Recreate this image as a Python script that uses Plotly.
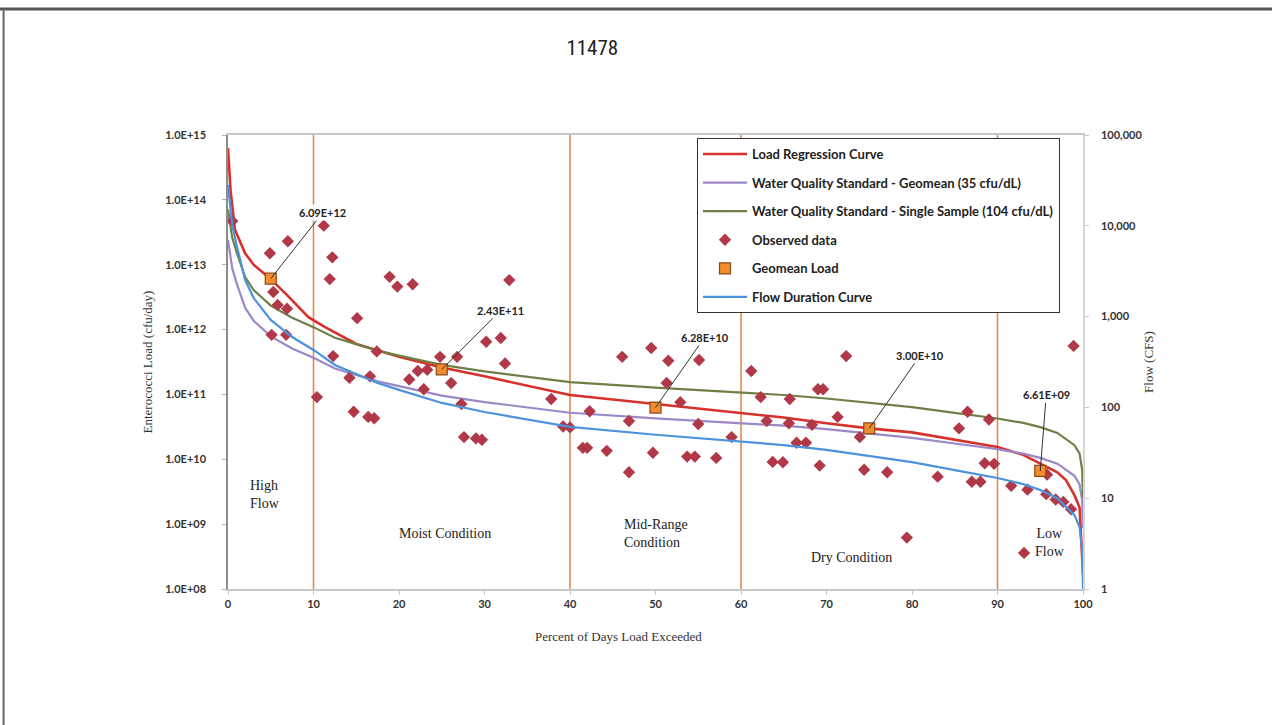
import math
import plotly.graph_objects as go

# ---------------- data ----------------
# Flow duration curve (right axis, cfs)
fdc_pct = [0, 0.5, 1, 2, 3, 5, 7.5, 10, 12.5, 15, 17.5, 20, 25, 30, 35, 40, 50, 60,
           65, 70, 76, 80, 85, 90, 93, 95, 97, 98, 99, 99.6, 99.9, 100]
fdc_flow = [28100, 10200, 6150, 2530, 1600, 918, 596, 429, 293, 233, 186, 156, 112, 89,
            73, 61, 50, 42, 38.5, 34, 28.4, 25, 20.4, 16.7, 14.3, 12.3, 10, 8, 6.5, 4.8,
            2.7, 1]
# Water quality standard curves (left axis, cfu/day)
geo_std_load = [2.41e13, 8.73e12, 5.26e12, 2.17e12, 1.37e12, 7.86e11, 5.10e11, 3.67e11,
                2.51e11, 1.99e11, 1.59e11, 1.34e11, 9.59e10, 7.62e10, 6.25e10, 5.22e10,
                4.28e10, 3.60e10, 3.30e10, 2.91e10, 2.43e10, 2.14e10, 1.75e10, 1.43e10,
                1.22e10, 1.05e10, 8.56e9, 6.85e9, 5.56e9, 4.11e9, 2.31e9, 8.56e8]
ss_std_load = [7.15e13, 2.60e13, 1.57e13, 6.44e12, 4.07e12, 2.34e12, 1.52e12, 1.09e12,
               7.46e11, 5.93e11, 4.73e11, 3.97e11, 2.85e11, 2.27e11, 1.86e11, 1.55e11,
               1.27e11, 1.07e11, 9.80e10, 8.65e10, 7.23e10, 6.36e10, 5.19e10, 4.25e10,
               3.64e10, 3.13e10, 2.55e10, 2.04e10, 1.65e10, 1.22e10, 6.87e9, 2.55e9]
# Load regression curve
reg_pct = [0, 0.3, 0.8, 2, 3, 5, 7, 9.4, 11.3, 15, 20, 25, 30, 35, 40, 50, 60, 65, 70,
           75, 80, 85, 90, 93, 95, 97, 98, 99, 99.6, 100]
reg_load = [6.3e14, 1.4e14, 3.5e13, 1.5e13, 1.0e13, 6.0e12, 3.3e12, 1.55e12, 1.1e12,
            6.0e11, 3.8e11, 2.6e11, 1.9e11, 1.35e11, 9.8e10, 7.1e10, 5.1e10, 4.4e10,
            3.6e10, 3.0e10, 2.6e10, 2.0e10, 1.55e10, 1.17e10, 8.7e9, 6.3e9, 4.8e9, 2.8e9,
            1.8e9, 1.7e8]
# Observed data
obs_pct = [0.5, 4.9, 7.0, 5.3, 5.8, 6.9, 5.1, 6.8, 11.2, 12.2, 11.9, 18.9, 19.8, 21.6,
           15.1, 12.3, 17.4, 14.2, 16.6, 10.4, 14.7, 16.4, 17.1, 21.2, 22.9, 22.2, 23.3,
           24.8, 26.1, 26.8, 27.3, 27.6, 29.0, 29.7, 30.2, 31.9, 32.4, 32.9, 37.8, 39.2,
           40.0, 41.5, 42.0, 44.3, 46.9, 42.3, 46.1, 49.5, 51.5, 55.1, 51.3, 46.9, 49.7,
           52.9, 55.0, 53.7, 54.6, 57.1, 58.9, 61.2, 62.3, 63.0, 63.7, 64.9, 65.7, 65.6,
           66.5, 67.6, 68.3, 69.0, 69.6, 69.2, 72.3, 71.3, 73.9, 74.4, 77.1, 79.4, 83.0,
           85.5, 86.5, 87.0, 88.0, 88.5, 89.6, 89.0, 91.6, 93.5, 93.1, 95.8, 95.7, 96.8,
           97.7, 98.6, 98.9]
obs_load = [4.7e13, 1.5e13, 2.3e13, 3.8e12, 2.4e12, 2.1e12, 8.3e11, 8.3e11, 4.0e13,
            1.3e13, 6.0e12, 6.5e12, 4.6e12, 5.0e12, 1.5e12, 3.9e11, 4.6e11, 1.8e11,
            1.9e11, 9.1e10, 5.4e10, 4.5e10, 4.3e10, 1.7e11, 1.2e11, 2.3e11, 2.4e11,
            3.8e11, 1.5e11, 3.8e11, 7.1e10, 2.2e10, 2.1e10, 2.0e10, 6.5e11, 7.4e11,
            3.0e11, 5.8e12, 8.5e10, 3.2e10, 3.1e10, 1.5e10, 1.5e10, 1.35e10, 6.3e9,
            5.5e10, 3.8e11, 5.2e11, 3.3e11, 3.4e11, 1.5e11, 3.9e10, 1.26e10, 7.6e10,
            3.5e10, 1.1e10, 1.1e10, 1.05e10, 2.2e10, 2.3e11, 9.1e10, 3.9e10, 9.1e9,
            9.0e9, 8.5e10, 3.6e10, 1.8e10, 1.8e10, 3.4e10, 1.2e11, 1.2e11, 8.0e9,
            3.9e11, 4.5e10, 2.2e10, 6.9e9, 6.3e9, 6.2e8, 5.4e9, 3.0e10, 5.4e10, 4.5e9,
            4.5e9, 8.7e9, 8.5e9, 4.1e10, 3.9e9, 3.4e9, 3.6e8, 5.8e9, 2.9e9, 2.4e9,
            2.2e9, 1.7e9, 5.6e11]
# Geomean load per flow regime
gm_pct = [5, 25, 50, 75, 95]
gm_load = [6.09e12, 2.43e11, 6.28e10, 3.00e10, 6.61e9]
gm_labels = ["6.09E+12", "2.43E+11", "6.28E+10", "3.00E+10", "6.61E+09"]
gm_label_dx = [52, 59, 49, 51, 6]
gm_label_dy = [-66, -59, -70, -73, -76]
# Flow regime boundaries and labels
boundaries = [10, 40, 60, 90]
region_text = ["High<br>Flow", "Moist Condition", "Mid-Range<br>Condition",
               "Dry Condition", "Low<br>Flow"]
region_x = [2.3, 25.4, 46.1, 72.9, 96.1]
region_logy = [9.45, 8.85, 8.86, 8.49, 8.72]
region_anchor = ["left", "center", "left", "center", "center"]
# Axis ticks
left_ticks = [1e8, 1e9, 1e10, 1e11, 1e12, 1e13, 1e14, 1e15]
left_ticktext = ["1.0E+08", "1.0E+09", "1.0E+10", "1.0E+11", "1.0E+12", "1.0E+13",
                 "1.0E+14", "1.0E+15"]
right_ticks = [1, 10, 100, 1000, 10000, 100000]
right_ticktext = ["1", "10", "100", "1,000", "10,000", "100,000"]
x_ticks = [0, 10, 20, 30, 40, 50, 60, 70, 80, 90, 100]

# ---------------- styling ----------------
SANS = "Lato, 'Open Sans', sans-serif"
SERIF = "'Liberation Serif', 'DejaVu Serif', serif"
C_RED = "#D7312C"
C_PURPLE = "#9B88C6"
C_GREEN = "#6F8046"
C_BLUE = "#4C93DC"
C_DIAMOND = "#B03848"
C_BOUND = "#E08A52"

fig = go.Figure()

fig.add_trace(go.Scatter(x=reg_pct, y=reg_load, mode="lines", name="Load Regression Curve",
                         line=dict(color=C_RED, width=2.6), legendgroup="a"))
fig.add_trace(go.Scatter(x=fdc_pct, y=geo_std_load, mode="lines",
                         name="Water Quality Standard - Geomean (35 cfu/dL)",
                         line=dict(color=C_PURPLE, width=2.2), legendgroup="b"))
fig.add_trace(go.Scatter(x=fdc_pct, y=ss_std_load, mode="lines",
                         name="Water Quality Standard - Single Sample (104 cfu/dL)",
                         line=dict(color=C_GREEN, width=2.2), legendgroup="c"))
fig.add_trace(go.Scatter(x=obs_pct, y=obs_load, mode="markers", name="Observed data",
                         marker=dict(symbol="diamond", size=9.5, color=C_DIAMOND,
                                     line=dict(width=0)), legendgroup="d"))
fig.add_trace(go.Scatter(x=gm_pct, y=gm_load, mode="markers", name="Geomean Load",
                         marker=dict(symbol="square", size=11, color="#F28C2E",
                                     line=dict(color="#8A4B1C", width=1.2)),
                         legendgroup="e"))
fig.add_trace(go.Scatter(x=fdc_pct, y=fdc_flow, mode="lines", name="Flow Duration Curve",
                         line=dict(color=C_BLUE, width=2.2), yaxis="y2", legendgroup="f"))

shapes = []
for b in boundaries:
    shapes.append(dict(type="line", xref="x", yref="paper", x0=b, x1=b, y0=0, y1=1,
                       line=dict(color=C_BOUND, width=1.6), layer="below"))
# document frame (top and left edges of the page box)
shapes.append(dict(type="line", xref="paper", yref="paper", x0=-0.27, x1=1.23,
                   y0=1.2775, y1=1.2775, line=dict(color="#555555", width=3)))
shapes.append(dict(type="line", xref="paper", yref="paper", x0=-0.2625, x1=-0.2625,
                   y0=1.2775, y1=-0.31, line=dict(color="#666666", width=2)))

annotations = []
for p, v, t, dx, dy in zip(gm_pct, gm_load, gm_labels, gm_label_dx, gm_label_dy):
    annotations.append(dict(x=p, y=math.log10(v), xref="x", yref="y", text=t,
                            showarrow=True, arrowhead=0, arrowwidth=1, arrowcolor="#333333",
                            ax=dx, ay=dy,
                            font=dict(family=SANS, size=11, color="#222222", weight="bold"),
                            bgcolor="rgba(255,255,255,0.9)"))
for t, x, ly, anc in zip(region_text, region_x, region_logy, region_anchor):
    annotations.append(dict(x=x, y=ly, xref="x", yref="y", text=t, showarrow=False,
                            xanchor=anc, yanchor="middle", align=anc,
                            font=dict(family=SERIF, size=14, color="#222222")))
annotations.append(dict(x=(618 - 228) / 855, y=(589 - 636) / 454, xref="paper",
                        yref="paper", text="Percent of Days Load Exceeded", showarrow=False,
                        xanchor="center", yanchor="middle",
                        font=dict(family=SERIF, size=13, color="#333333")))

fig.update_layout(
    width=1272, height=725, autosize=False,
    margin=dict(l=228, r=189, t=135, b=136),
    paper_bgcolor="white", plot_bgcolor="white",
    title=dict(text="11478", x=542 / 1272, y=1 - 48 / 725, xanchor="center",
               yanchor="middle", xref="paper", yref="container",
               font=dict(family="'Liberation Sans Narrow', 'Roboto Condensed', Lato, sans-serif",
                         size=21, color="#222222")),
    xaxis=dict(range=[0, 100], tickvals=x_ticks, showgrid=False, zeroline=False,
               showline=True, linecolor="#C8C8C8", linewidth=1.5, mirror=True,
               ticks="outside", ticklen=4, tickcolor="#C8C8C8",
               tickfont=dict(family=SANS, size=11, color="#333333", weight="bold")),
    yaxis=dict(type="log", range=[8, 15], tickvals=left_ticks, ticktext=left_ticktext,
               showgrid=False, zeroline=False, showline=True, linecolor="#8C8C8C",
               linewidth=1.5, ticks="outside", ticklen=4, tickcolor="#B0B0B0",
               ticklabelstandoff=14,
               tickfont=dict(family=SANS, size=11, color="#333333", weight="bold"),
               title=dict(text="Enterococci Load (cfu/day)", standoff=10,
                          font=dict(family=SERIF, size=13, color="#333333"))),
    yaxis2=dict(type="log", range=[0, 5], overlaying="y", side="right",
                tickvals=right_ticks, ticktext=right_ticktext, showgrid=False,
                zeroline=False, showline=True, linecolor="#D4D4D4", linewidth=1.5,
                ticks="outside", ticklen=4, tickcolor="#C8C8C8", ticklabelstandoff=10,
                tickfont=dict(family=SANS, size=11, color="#333333", weight="bold"),
                title=dict(text="Flow (CFS)", standoff=2,
                           font=dict(family=SERIF, size=13, color="#333333"))),
    legend=dict(x=(697 - 228) / 855, y=(589 - 138) / 454, xanchor="left", yanchor="top",
                bgcolor="white", bordercolor="#333333", borderwidth=1,
                tracegroupgap=8.7, traceorder="grouped", itemwidth=44,
                font=dict(family=SANS, size=13, color="#222222", weight="bold")),
    shapes=shapes,
    annotations=annotations,
    showlegend=True,
)

fig.write_html("out.html", config={"displayModeBar": False},
               post_script="document.body.style.margin='0px';")
